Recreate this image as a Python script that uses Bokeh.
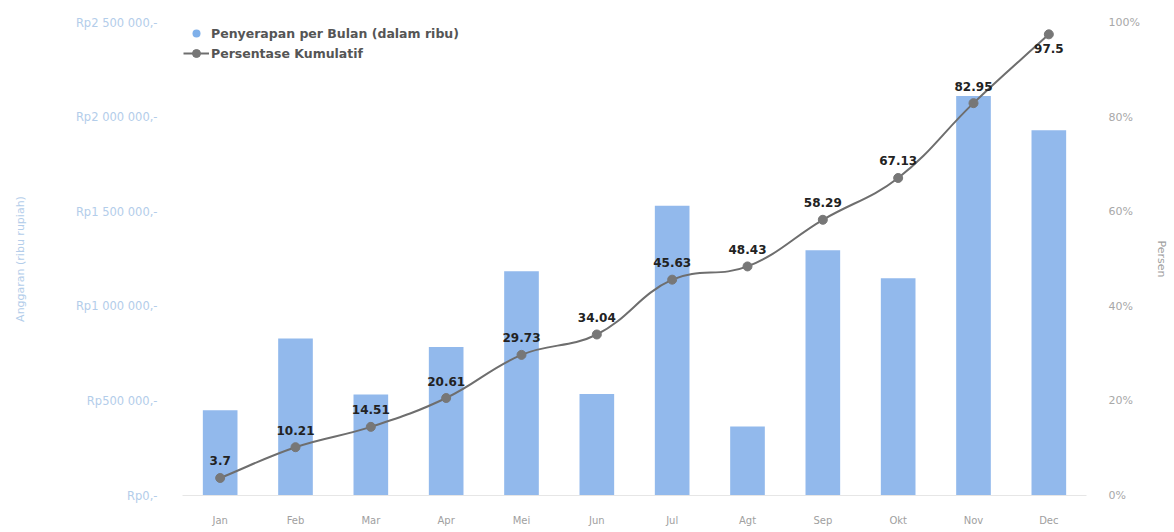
import math
from bokeh.plotting import figure
from bokeh.models import (Range1d, LinearAxis, FixedTicker, Legend, LegendItem,
                          ColumnDataSource)
from bokeh.core.properties import value
from bokeh.embed import file_html
from bokeh.resources import INLINE

# ---------------- data ----------------
months = ["Jan", "Feb", "Mar", "Apr", "Mei", "Jun", "Jul", "Agt", "Sep", "Okt", "Nov", "Dec"]
monthly_absorption = [450000, 830000, 534000, 785000, 1185000, 536000,
                      1532000, 365000, 1296000, 1148000, 2111000, 1931000]
cumulative_pct = [3.7, 10.21, 14.51, 20.61, 29.73, 34.04, 45.63, 48.43, 58.29, 67.13, 82.95, 97.5]

left_ticks = [0, 500000, 1000000, 1500000, 2000000, 2500000]
left_tick_labels = ["Rp0,-", "Rp500 000,-", "Rp1 000 000,-", "Rp1 500 000,-",
                    "Rp2 000 000,-", "Rp2 500 000,-"]
right_ticks = [0, 20, 40, 60, 80, 100]
right_tick_labels = ["0%", "20%", "40%", "60%", "80%", "100%"]

bar_legend = "Penyerapan per Bulan (dalam ribu)"
line_legend = "Persentase Kumulatif"
left_title = "Anggaran (ribu rupiah)"
right_title = "Persen"

# ---------------- styles ----------------
BAR_COLOR = "#92b9ec"
LINE_COLOR = "#6e6e6e"
FONT = "DejaVu Sans"
W, H = 1174, 532
BORDER_L, BORDER_R, BORDER_T, BORDER_B = 182, 88, 22, 37
TENSION = 0.4

p = figure(x_range=months, y_range=Range1d(0, 2500000), width=W, height=H,
           output_backend="svg", toolbar_location=None,
           min_border_left=BORDER_L, min_border_right=BORDER_R,
           min_border_top=BORDER_T, min_border_bottom=BORDER_B)
p.extra_y_ranges = {"pct": Range1d(0, 100)}
p.outline_line_color = None
p.background_fill_color = "white"
p.border_fill_color = "white"
p.xgrid.grid_line_color = None
p.ygrid.grid_line_color = None

# label placement: below the point when there is no room above it
lab_offsets = [14 if v > 95 else -17 for v in cumulative_pct]
src = ColumnDataSource(dict(m=months, v=monthly_absorption, pct=cumulative_pct,
                            lab=[str(v) for v in cumulative_pct],
                            yoff=lab_offsets))

bars = p.vbar(x="m", top="v", width=0.46, source=src, fill_color=BAR_COLOR,
              line_color=None)

# smooth (Catmull-Rom style, like tension 0.4) curve through the points
sx = (W - BORDER_L - BORDER_R) / len(months)   # px per category
sy = (H - BORDER_T - BORDER_B) / 100.0          # px per percent
P = [((i + 0.5) * sx, v * sy) for i, v in enumerate(cumulative_pct)]
cp_prev, cp_next = [], []
for i, cur in enumerate(P):
    prv = P[i - 1] if i > 0 else cur
    nxt = P[i + 1] if i < len(P) - 1 else cur
    d01 = math.hypot(cur[0] - prv[0], cur[1] - prv[1])
    d12 = math.hypot(nxt[0] - cur[0], nxt[1] - cur[1])
    tot = d01 + d12
    fa = TENSION * (d01 / tot if tot else 0)
    fb = TENSION * (d12 / tot if tot else 0)
    dx, dy = nxt[0] - prv[0], nxt[1] - prv[1]
    cp_prev.append((cur[0] - fa * dx, cur[1] - fa * dy))
    cp_next.append((cur[0] + fb * dx, cur[1] + fb * dy))
bz = dict(x0=[], y0=[], x1=[], y1=[], cx0=[], cy0=[], cx1=[], cy1=[])
for i in range(len(P) - 1):
    bz["x0"].append(P[i][0] / sx); bz["y0"].append(P[i][1] / sy)
    bz["x1"].append(P[i + 1][0] / sx); bz["y1"].append(P[i + 1][1] / sy)
    bz["cx0"].append(cp_next[i][0] / sx); bz["cy0"].append(cp_next[i][1] / sy)
    bz["cx1"].append(cp_prev[i + 1][0] / sx); bz["cy1"].append(cp_prev[i + 1][1] / sy)
ln = p.bezier(source=ColumnDataSource(bz), y_range_name="pct",
              line_color=LINE_COLOR, line_width=2)

pts = p.scatter(x="m", y="pct", source=src, y_range_name="pct", size=9,
                fill_color="#777777", line_color="#777777")
p.text(x="m", y="pct", text="lab", source=src, y_range_name="pct",
       text_align="center", text_baseline="middle", y_offset="yoff",
       text_font=value(FONT), text_font_size="12px", text_font_style="bold",
       text_color="#222222")

# legend key for bars (circle); its single point has no value, so nothing is drawn
key_src = ColumnDataSource(dict(x=[months[0]], y=[float("nan")]))
key = p.scatter(x="x", y="y", source=key_src, size=12, fill_color="#7fb0ea",
                line_color=None)

legend = Legend(items=[LegendItem(label=bar_legend, renderers=[key]),
                       LegendItem(label=line_legend, renderers=[ln, pts])],
                location="top_left", orientation="vertical")
legend.margin = 1
legend.padding = 0
legend.spacing = 0
legend.glyph_width = 26
legend.glyph_height = 20
legend.label_standoff = 2
legend.label_text_font = FONT
legend.label_text_font_size = "12.5px"
legend.label_text_font_style = "bold"
legend.label_text_color = "#555555"
legend.background_fill_alpha = 0
legend.border_line_color = None
p.add_layout(legend)

# x axis
xa = p.xaxis[0]
xa.axis_line_color = "#e6e6e6"
xa.major_tick_line_color = None
xa.minor_tick_line_color = None
xa.major_tick_out = 0
xa.major_label_text_font = FONT
xa.major_label_text_font_size = "10px"
xa.major_label_text_color = "#a0a0a0"
xa.major_label_standoff = 19

# left axis
ya = p.yaxis[0]
ya.ticker = FixedTicker(ticks=left_ticks)
ya.major_label_overrides = {t: l for t, l in zip(left_ticks, left_tick_labels)}
ya.axis_line_color = None
ya.major_tick_line_color = None
ya.minor_tick_line_color = None
ya.major_tick_out = 0
ya.major_label_text_font = FONT
ya.major_label_text_font_size = "11.5px"
ya.major_label_text_color = "#b3cdea"
ya.major_label_standoff = 25
ya.axis_label = left_title
ya.axis_label_text_font = FONT
ya.axis_label_text_font_size = "11px"
ya.axis_label_text_font_style = "normal"
ya.axis_label_text_color = "#b3cdea"
ya.axis_label_standoff = 46

# right axis
ra = LinearAxis(y_range_name="pct", ticker=FixedTicker(ticks=right_ticks))
ra.major_label_overrides = {t: l for t, l in zip(right_ticks, right_tick_labels)}
ra.axis_line_color = None
ra.major_tick_line_color = None
ra.minor_tick_line_color = None
ra.major_tick_out = 0
ra.major_label_text_font = FONT
ra.major_label_text_font_size = "11px"
ra.major_label_text_color = "#a8a8a8"
ra.major_label_standoff = 22
ra.axis_label = right_title
ra.axis_label_text_font = FONT
ra.axis_label_text_font_size = "11px"
ra.axis_label_text_font_style = "normal"
ra.axis_label_text_color = "#a0a0a0"
ra.axis_label_standoff = 12
p.add_layout(ra, "right")

open("out.html", "w").write(file_html(p, INLINE))
